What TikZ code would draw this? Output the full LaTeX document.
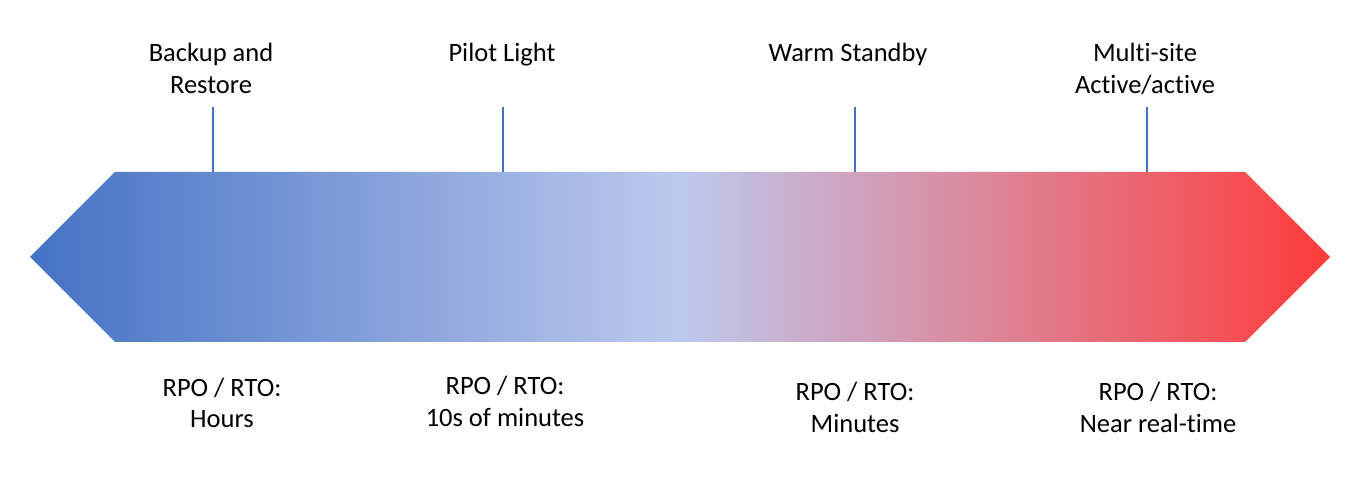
\documentclass[tikz,border=0pt]{standalone}
\usepackage{fontspec}
\setmainfont{Carlito}[Ligatures={NoCommon}]
\definecolor{cL}{HTML}{4472C4}
\definecolor{cM}{HTML}{BDC9EE}
\definecolor{cR}{HTML}{FF3B3B}
\definecolor{tick}{HTML}{4472C4}
\pgfdeclarehorizontalshading{drshade}{100bp}{color(0bp)=(cL); color(25bp)=(cL); color(50bp)=(cM); color(75bp)=(cR); color(100bp)=(cR)}
\begin{document}
\begin{tikzpicture}[x=1pt,y=-1pt,
  lbl/.style={align=center,inner sep=0pt,anchor=base,font=\fontsize{26.5}{32}\selectfont},
  tickline/.style={draw=tick,line width=1.6pt}]
\useasboundingbox (0,0) rectangle (1361,486);
\shade[shading=drshade] (30,257) -- (115,172) -- (1245,172) -- (1330,257) -- (1245,342) -- (115,342) -- cycle;
% tick anchors
\coordinate (t1a) at (213,107); \coordinate (t1b) at (213,172);
\coordinate (t2a) at (503,107); \coordinate (t2b) at (503,172);
\coordinate (t3a) at (855,107); \coordinate (t3b) at (855,172);
\coordinate (t4a) at (1147,107); \coordinate (t4b) at (1147,172);
\draw[tickline] (t1a) -- (t1b);
\draw[tickline] (t2a) -- (t2b);
\draw[tickline] (t3a) -- (t3b);
\draw[tickline] (t4a) -- (t4b);
% top labels (anchor = baseline of last line)
\node[lbl] (l1) at (211,94) {Backup and\\Restore};
\node[lbl] (l2) at (502,62) {Pilot Light};
\node[lbl] (l3) at (848,62) {Warm Standby};
\node[lbl] (l4) at (1145,94) {Multi-site\\Active/active};
% bottom labels
\node[lbl] (b1) at (222,428) {RPO / RTO:\\Hours};
\node[lbl] (b2) at (505,426) {RPO / RTO:\\10s of minutes};
\node[lbl] (b3) at (855,432) {RPO / RTO:\\Minutes};
\node[lbl] (b4) at (1158,432) {RPO / RTO:\\Near real-time};
\end{tikzpicture}
\end{document}
